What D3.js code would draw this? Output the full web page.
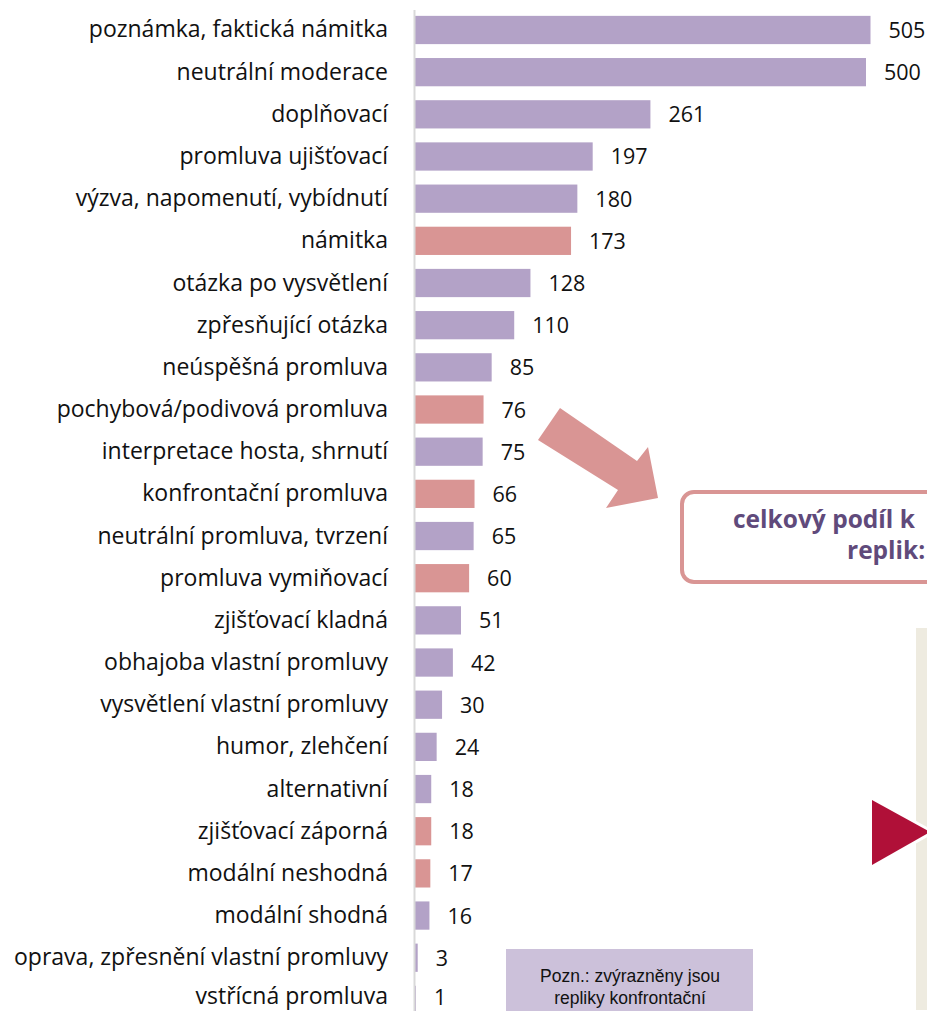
<!DOCTYPE html>
<html><head><meta charset="utf-8">
<script src="https://cdn.jsdelivr.net/npm/d3@7/dist/d3.min.js"></script>
<style>body{margin:0;background:#fff;overflow:hidden}svg{display:block}</style>
</head><body>
<script>
const categories = ["poznámka, faktická námitka","neutrální moderace","doplňovací","promluva ujišťovací","výzva, napomenutí, vybídnutí","námitka","otázka po vysvětlení","zpřesňující otázka","neúspěšná promluva","pochybová/podivová promluva","interpretace hosta, shrnutí","konfrontační promluva","neutrální promluva, tvrzení","promluva vymiňovací","zjišťovací kladná","obhajoba vlastní promluvy","vysvětlení vlastní promluvy","humor, zlehčení","alternativní","zjišťovací záporná","modální neshodná","modální shodná","oprava, zpřesnění vlastní promluvy","vstřícná promluva"];
const values = [505,500,261,197,180,173,128,110,85,76,75,66,65,60,51,42,30,24,18,18,17,16,3,1];
const confrontational = ["námitka","pochybová/podivová promluva","konfrontační promluva","promluva vymiňovací","zjišťovací záporná","modální neshodná"];
const calloutLines = ["celkový podíl k","replik:"];
const noteLines = ["Pozn.: zvýrazněny jsou","repliky konfrontační"];

const W = 927, H = 1011;
const svg = d3.select("body").append("svg").attr("width", W).attr("height", H);
const font = "'Open Sans', 'Noto Sans', sans-serif";

const x = d3.scaleLinear().domain([0, 505]).range([415, 870.5]);
const y = d3.scaleBand().domain(categories).range([8.9, 8.9 + 24 * 42.17]).paddingInner(0.33).paddingOuter(0.165);

// keep text baselines inside the picture (descender room)
const baseline = (c, off, fs) => Math.min(y(c) + y.bandwidth() / 2 + off, H - 0.3 * fs);

// right beige panel
svg.append("rect").attr("x", 916).attr("y", 628).attr("width", 30).attr("height", 382).attr("fill", "#eeebe0");
// triangle with white outline
svg.append("path").attr("d", "M872,800 L930,832 L872,865 Z").attr("fill", "#b01038").attr("stroke", "#fff").attr("stroke-width", 6).attr("stroke-linejoin", "miter");
svg.append("path").attr("d", "M872,800 L930,832 L872,865 Z").attr("fill", "#b01038");

// bars
const data = categories.map((c, i) => ({c, v: values[i]}));
svg.append("g").selectAll("rect").data(data).join("rect")
  .attr("x", x(0)).attr("y", d => y(d.c))
  .attr("width", d => x(d.v) - x(0)).attr("height", y.bandwidth())
  .attr("fill", d => confrontational.includes(d.c) ? "#d99594" : "#b3a2c7");

// axis line
svg.append("line").attr("x1", 414.5).attr("x2", 414.5).attr("y1", 10).attr("y2", H).attr("stroke", "#d9d9d9").attr("stroke-width", 2);

// category labels
svg.append("g").selectAll("text").data(data).join("text")
  .attr("x", 388).attr("y", d => baseline(d.c, 7.5, 23))
  .attr("text-anchor", "end").attr("font-family", font).attr("font-size", 23).attr("fill", "#111")
  .text(d => d.c);

// value labels
svg.append("g").selectAll("text").data(data).join("text")
  .attr("x", d => x(d.v) + 18).attr("y", d => baseline(d.c, 8, 21.5))
  .attr("font-family", font).attr("font-size", 21.5).attr("fill", "#111")
  .text(d => d.v);

// arrow
svg.append("path").attr("d", "M538,440 L560,408 L637,461 L648,447 L658,498 L606,508 L618,490 Z").attr("fill", "#d99594");

// callout box
svg.append("rect").attr("x", 682).attr("y", 492).attr("width", 400).attr("height", 90).attr("rx", 12)
  .attr("fill", "#fff").attr("stroke", "#d99594").attr("stroke-width", 4);
svg.append("text").attr("x", 733).attr("y", 528).attr("font-family", font).attr("font-weight", "bold").attr("font-size", 24.5).attr("fill", "#604a7b").text(calloutLines[0]);
svg.append("text").attr("x", 847).attr("y", 559).attr("font-family", font).attr("font-weight", "bold").attr("font-size", 24.5).attr("fill", "#604a7b").text(calloutLines[1]);

// note box
svg.append("rect").attr("x", 506).attr("y", 949).attr("width", 247).attr("height", 70).attr("fill", "#ccc1da");
svg.append("g").selectAll("text").data(noteLines).join("text")
  .attr("x", 630).attr("y", (d, i) => 982 + i * 21.5).attr("text-anchor", "middle")
  .attr("font-family", "'Liberation Sans', Arial, sans-serif").attr("font-size", 17.5).attr("fill", "#111").text(d => d);
</script>
</body></html>
